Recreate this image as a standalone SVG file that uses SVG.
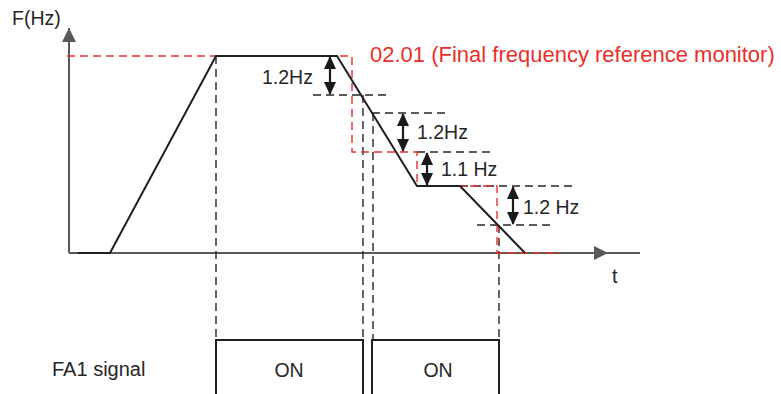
<svg xmlns="http://www.w3.org/2000/svg" width="781" height="394" viewBox="0 0 781 394">
<style>
text{font-family:"Liberation Sans",Arial,sans-serif;fill:#262626}
.ax{stroke:#595959;stroke-width:2;fill:none}
.cv{stroke:#1f1f1f;stroke-width:2;fill:none;stroke-linejoin:miter}
.bd{stroke:#262626;stroke-width:1.4;stroke-dasharray:8,5;fill:none}
.rd{stroke:#e8302a;stroke-width:1.4;stroke-dasharray:8,5;fill:none}
.dim{stroke:#1a1a1a;stroke-width:2.2;fill:none}
.box{stroke:#1f1f1f;stroke-width:2;fill:none}
</style>
<defs>
<marker id="ah" viewBox="0 0 13 12" refX="12" refY="6" markerWidth="13" markerHeight="12" markerUnits="userSpaceOnUse" orient="auto-start-reverse"><path d="M0,0 L13,6 L0,12 z" fill="#1a1a1a"/></marker>
<marker id="axh" viewBox="0 0 10 10" refX="10" refY="5" markerWidth="16" markerHeight="14" markerUnits="userSpaceOnUse" orient="auto"><path d="M0,0 L10,5 L0,10 z" fill="#595959"/></marker>
</defs>
<g id="axes">
<line class="ax" x1="69" y1="253" x2="69" y2="28" marker-end="url(#axh)"/>
<line class="ax" x1="69" y1="253" x2="640" y2="253"/>
<line class="ax" x1="590" y1="253" x2="608" y2="253" marker-end="url(#axh)"/>
<text x="12" y="25" font-size="19.5">F(Hz)</text>
<text x="612" y="283" font-size="20">t</text>
</g>
<g id="connectors">
<path class="bd" d="M216,56 V340 M363,95 V340 M373,113 V340 M499,225 V340"/>
<path class="bd" d="M313,95 H387 M372,113 H447 M417,152 H490 M460,186 H572 M477,225 H550"/>
<path class="rd" d="M67,56 H352 V152 H417 V186 H497 V253 H560"/>
<path class="cv" d="M78,253 H110 L216,56 H337 L417,186 H460 L525,253"/>
<line class="dim" x1="330" y1="57" x2="330" y2="94" marker-start="url(#ah)" marker-end="url(#ah)"/>
<line class="dim" x1="403" y1="114" x2="403" y2="151" marker-start="url(#ah)" marker-end="url(#ah)"/>
<line class="dim" x1="427" y1="153" x2="427" y2="185" marker-start="url(#ah)" marker-end="url(#ah)"/>
<line class="dim" x1="513" y1="187" x2="513" y2="224" marker-start="url(#ah)" marker-end="url(#ah)"/>
</g>
<g id="labels">
<text x="370" y="62" font-size="22" style="fill:#e8302a">02.01 (Final frequency reference monitor)</text>
<text x="262" y="84" font-size="19.5">1.2Hz</text>
<text x="417" y="139" font-size="19.5">1.2Hz</text>
<text x="441" y="176" font-size="19.5">1.1 Hz</text>
<text x="523" y="214" font-size="19.5">1.2 Hz</text>
</g>
<g id="signal">
<text x="52" y="376" font-size="20">FA1 signal</text>
<path class="box" d="M216,394 V340 H363 V394"/>
<path class="box" d="M372,394 V340 H499 V394"/>
<text x="289" y="377" font-size="19.5" text-anchor="middle">ON</text>
<text x="438" y="377" font-size="19.5" text-anchor="middle">ON</text>
</g>
</svg>
